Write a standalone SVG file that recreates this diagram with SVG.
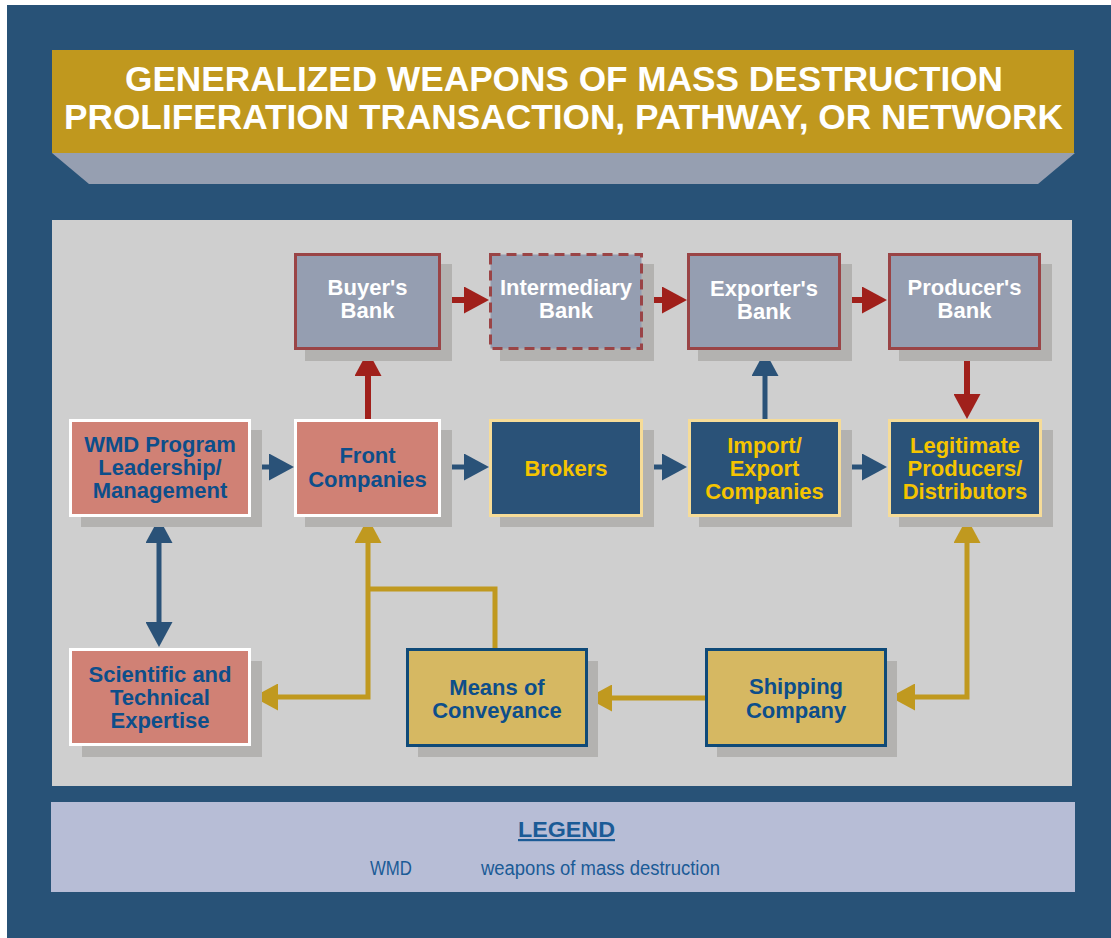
<svg xmlns="http://www.w3.org/2000/svg" width="1111" height="938" viewBox="0 0 1111 938">
<style>
text{font-family:"Liberation Sans",Arial,Helvetica,sans-serif;text-anchor:middle}
.t{font-weight:bold;font-size:22px}
.w{fill:#ffffff}
.b{fill:#0d4e8a}
.y{fill:#f5c400}
.shadow{fill:#b3b2b0}
.bank{fill:#959eb1;stroke:#9a4446;stroke-width:3}
.salmon{fill:#d08175;stroke:#ffffff;stroke-width:3}
.navy{fill:#2a5278;stroke:#f6dc98;stroke-width:3}
.gold{fill:#d6b862;stroke:#0f4a78;stroke-width:3}
.red{fill:none;stroke:#a0201b;stroke-width:6}
.blu{fill:none;stroke:#2a5278;stroke-width:5}
.gld{fill:none;stroke:#c0991f;stroke-width:5}
.lg{fill:#1b5b96}
</style>
<defs>
<marker id="mr" viewBox="0 0 25 27" markerWidth="25" markerHeight="27" refX="0" refY="13.5" markerUnits="userSpaceOnUse" orient="auto-start-reverse"><path d="M0,0 L25,13.5 L0,27 Z" fill="#a0201b"/></marker>
<marker id="mb" viewBox="0 0 25 27" markerWidth="25" markerHeight="27" refX="0" refY="13.5" markerUnits="userSpaceOnUse" orient="auto-start-reverse"><path d="M0,0 L25,13.5 L0,27 Z" fill="#2a5278"/></marker>
<marker id="mg" viewBox="0 0 25 27" markerWidth="25" markerHeight="27" refX="0" refY="13.5" markerUnits="userSpaceOnUse" orient="auto-start-reverse"><path d="M0,0 L25,13.5 L0,27 Z" fill="#c0991f"/></marker>
</defs>
<rect x="7" y="5" width="1104" height="933" fill="#285277"/>
<g id="title">
<polygon points="52,153 1075,153 1038,184 89,184" fill="#969fb1"/>
<rect x="52" y="50" width="1022" height="103" fill="#c0981e"/>
<text x="564" y="91" class="w" font-weight="bold" font-size="34.5" textLength="878" lengthAdjust="spacingAndGlyphs">GENERALIZED WEAPONS OF MASS DESTRUCTION</text>
<text x="563.5" y="129" class="w" font-weight="bold" font-size="34.5" textLength="999" lengthAdjust="spacingAndGlyphs">PROLIFERATION TRANSACTION, PATHWAY, OR NETWORK</text>
</g>
<rect x="52" y="220" width="1020" height="566" fill="#cfcfcf"/>
<g id="connectors">
<path class="red" d="M441,300 H464" marker-end="url(#mr)"/>
<path class="red" d="M643,300 H662" marker-end="url(#mr)"/>
<path class="red" d="M841,300 H862" marker-end="url(#mr)"/>
<path class="red" d="M368,419 V376" marker-end="url(#mr)"/>
<path class="red" d="M967,350 V394" marker-end="url(#mr)"/>
<path class="blu" d="M251,467 H269" marker-end="url(#mb)"/>
<path class="blu" d="M441,467 H464" marker-end="url(#mb)"/>
<path class="blu" d="M643,467 H662" marker-end="url(#mb)"/>
<path class="blu" d="M841,467 H862" marker-end="url(#mb)"/>
<path class="blu" d="M765,419 V376" marker-end="url(#mb)"/>
<path class="blu" d="M159,543 V622" marker-start="url(#mb)" marker-end="url(#mb)"/>
<path class="gld" d="M278,697 H368 V543" marker-start="url(#mg)" marker-end="url(#mg)"/>
<path class="gld" d="M368,589 H495 V648"/>
<path class="gld" d="M705,698 H612" marker-end="url(#mg)"/>
<path class="gld" d="M915,697 H967 V543" marker-start="url(#mg)" marker-end="url(#mg)"/>
</g>
<g id="buyers-bank">
<rect class="shadow" x="305" y="264" width="147" height="97"/>
<rect class="bank" x="295.5" y="254.5" width="144" height="94"/>
<text class="t w" x="367.5" y="295">Buyer's</text><text class="t w" x="367.5" y="318">Bank</text>
</g>
<g id="intermediary-bank">
<rect class="shadow" x="500" y="264" width="154" height="97"/>
<rect class="bank" x="490.5" y="254.5" width="151" height="94" stroke-dasharray="10,6"/>
<text class="t w" x="566" y="295">Intermediary</text><text class="t w" x="566" y="318">Bank</text>
</g>
<g id="exporters-bank">
<rect class="shadow" x="698" y="264" width="154" height="97"/>
<rect class="bank" x="688.5" y="254.5" width="151" height="94"/>
<text class="t w" x="764" y="296">Exporter's</text><text class="t w" x="764" y="319">Bank</text>
</g>
<g id="producers-bank">
<rect class="shadow" x="899" y="264" width="153" height="97"/>
<rect class="bank" x="889.5" y="254.5" width="150" height="94"/>
<text class="t w" x="964.5" y="295">Producer's</text><text class="t w" x="964.5" y="318">Bank</text>
</g>
<g id="wmd-program">
<rect class="shadow" x="81" y="430" width="181" height="97"/>
<rect class="salmon" x="70.5" y="420.5" width="179" height="95"/>
<text class="t b" x="160" y="452">WMD Program</text><text class="t b" x="160" y="475">Leadership/</text><text class="t b" x="160" y="498">Management</text>
</g>
<g id="front-companies">
<rect class="shadow" x="305" y="430" width="147" height="97"/>
<rect class="salmon" x="295.5" y="420.5" width="144" height="95"/>
<text class="t b" x="367.5" y="463">Front</text><text class="t b" x="367.5" y="487">Companies</text>
</g>
<g id="brokers">
<rect class="shadow" x="500" y="430" width="154" height="97"/>
<rect class="navy" x="490.5" y="420.5" width="151" height="95"/>
<text class="t y" x="566" y="476">Brokers</text>
</g>
<g id="import-export">
<rect class="shadow" x="699" y="430" width="153" height="97"/>
<rect class="navy" x="689.5" y="420.5" width="150" height="95"/>
<text class="t y" x="764.5" y="453">Import/</text><text class="t y" x="764.5" y="476">Export</text><text class="t y" x="764.5" y="499">Companies</text>
</g>
<g id="legitimate-producers">
<rect class="shadow" x="899" y="430" width="154" height="97"/>
<rect class="navy" x="889.5" y="420.5" width="151" height="95"/>
<text class="t y" x="965" y="453">Legitimate</text><text class="t y" x="965" y="476">Producers/</text><text class="t y" x="965" y="499">Distributors</text>
</g>
<g id="scientific-expertise">
<rect class="shadow" x="82" y="661" width="180" height="96"/>
<rect class="salmon" x="70.5" y="649.5" width="179" height="95"/>
<text class="t b" x="160" y="682">Scientific and</text><text class="t b" x="160" y="705">Technical</text><text class="t b" x="160" y="728">Expertise</text>
</g>
<g id="means-of-conveyance">
<rect class="shadow" x="418" y="661" width="180" height="96"/>
<rect class="gold" x="407.5" y="649.5" width="179" height="96"/>
<text class="t b" x="497" y="695">Means of</text><text class="t b" x="497" y="718">Conveyance</text>
</g>
<g id="shipping-company">
<rect class="shadow" x="717" y="661" width="180" height="96"/>
<rect class="gold" x="706.5" y="649.5" width="179" height="96"/>
<text class="t b" x="796" y="694">Shipping</text><text class="t b" x="796" y="718">Company</text>
</g>
<g id="legend">
<rect x="51" y="802" width="1024" height="90" fill="#b7bdd6"/>
<text class="lg" x="566.5" y="837" font-weight="bold" font-size="22" text-decoration="underline" textLength="97" lengthAdjust="spacingAndGlyphs">LEGEND</text>
<text class="lg" x="370" y="875" font-size="20" style="text-anchor:start" textLength="42" lengthAdjust="spacingAndGlyphs">WMD</text>
<text class="lg" x="481" y="875" font-size="20" style="text-anchor:start" textLength="239" lengthAdjust="spacingAndGlyphs">weapons of mass destruction</text>
</g>
</svg>
